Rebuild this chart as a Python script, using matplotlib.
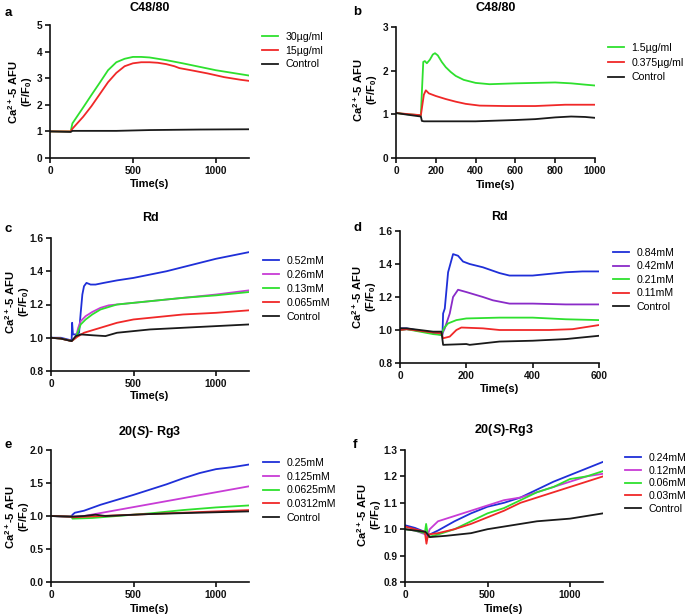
import matplotlib
matplotlib.use("Agg")
import matplotlib.pyplot as plt
from matplotlib.ticker import FormatStrFormatter

plt.rcParams['font.family'] = ['Liberation Sans', 'DejaVu Sans']
plt.rcParams['mathtext.fontset'] = 'custom'
plt.rcParams['mathtext.rm'] = 'Liberation Sans:bold'
plt.rcParams['mathtext.bf'] = 'Liberation Sans:bold'
plt.rcParams['mathtext.it'] = 'Liberation Sans:italic:bold'

W, H = 685, 616
fig = plt.figure(figsize=(W / 100, H / 100), dpi=100)

GREEN = '#2EE02E'
RED = '#F02828'
BLACK = '#1A1A1A'
BLUE = '#1F2FD8'
MAGENTA = '#C83CD6'
PURPLE = '#8A2BC8'

# ---------------- Panel a ----------------
a_labels = ['30µg/ml', '15µg/ml', 'Control']
a_t = [[0, 125, 135, 200, 250, 300, 350, 400, 450, 500, 550, 600, 700, 800, 900, 1000, 1100, 1200],
       [0, 125, 135, 200, 250, 300, 350, 400, 450, 500, 550, 600, 650, 700, 750, 780, 850, 950, 1050, 1150, 1200],
       [0, 125, 135, 400, 600, 900, 1200]]
a_y = [[1.0, 1.0, 1.3, 1.9, 2.37, 2.83, 3.3, 3.6, 3.73, 3.8, 3.8, 3.78, 3.68, 3.56, 3.43, 3.3, 3.2, 3.1],
       [1.0, 1.0, 1.1, 1.55, 1.95, 2.4, 2.85, 3.2, 3.45, 3.56, 3.6, 3.6, 3.58, 3.53, 3.45, 3.38, 3.3, 3.18, 3.04, 2.94, 2.9],
       [1.0, 0.98, 1.02, 1.02, 1.05, 1.07, 1.08]]
a_colors = [GREEN, RED, BLACK]

# ---------------- Panel b ----------------
b_labels = ['1.5µg/ml', '0.375µg/ml', 'Control']
b_t = [[0, 60, 125, 130, 137, 145, 155, 170, 185, 196, 210, 230, 250, 275, 300, 340, 400, 470, 600, 700, 800, 880, 950, 1000],
       [0, 125, 132, 140, 150, 165, 200, 250, 300, 350, 420, 550, 700, 850, 1000],
       [0, 60, 125, 130, 140, 400, 600, 700, 800, 880, 950, 1000]]
b_y = [[1.03, 1.0, 0.98, 1.5, 2.2, 2.22, 2.17, 2.25, 2.37, 2.4, 2.35, 2.2, 2.08, 1.97, 1.88, 1.79, 1.72, 1.69, 1.71, 1.72, 1.73, 1.71, 1.68, 1.66],
       [1.03, 0.98, 1.2, 1.45, 1.55, 1.48, 1.42, 1.35, 1.29, 1.24, 1.2, 1.19, 1.19, 1.22, 1.22],
       [1.03, 0.99, 0.95, 0.85, 0.84, 0.84, 0.87, 0.89, 0.93, 0.95, 0.94, 0.92]]
b_colors = [GREEN, RED, BLACK]

# ---------------- Panel c ----------------
c_labels = ['0.52mM', '0.26mM', '0.13mM', '0.065mM', 'Control']
c_t = [[0, 60, 120, 125, 128, 133, 150, 170, 180, 190, 200, 215, 240, 270, 320, 400, 500, 600, 700, 800, 900, 1000, 1100, 1200],
       [0, 60, 125, 150, 165, 180, 210, 250, 300, 350, 450, 600, 800, 1000, 1200],
       [0, 60, 125, 150, 165, 180, 210, 250, 300, 400, 500, 600, 800, 1000, 1200],
       [0, 60, 125, 150, 200, 300, 400, 500, 600, 700, 800, 1000, 1200],
       [0, 60, 125, 150, 180, 250, 330, 400, 500, 600, 800, 1000, 1200]]
c_y = [[1.0, 1.0, 0.985, 0.98, 1.09, 1.02, 1.02, 1.03, 1.15, 1.26, 1.31, 1.33, 1.32, 1.32, 1.33, 1.345, 1.36, 1.38, 1.40, 1.425, 1.45, 1.475, 1.495, 1.515],
       [1.0, 0.995, 0.98, 1.0, 1.06, 1.1, 1.13, 1.155, 1.18, 1.195, 1.205, 1.22, 1.24, 1.26, 1.285],
       [1.0, 0.995, 0.98, 1.0, 1.04, 1.08, 1.11, 1.14, 1.17, 1.2, 1.21, 1.22, 1.24, 1.255, 1.275],
       [1.0, 0.995, 0.98, 1.0, 1.03, 1.06, 1.09, 1.11, 1.12, 1.13, 1.14, 1.15, 1.165],
       [1.0, 0.995, 0.98, 1.01, 1.02, 1.015, 1.01, 1.03, 1.04, 1.05, 1.06, 1.07, 1.08]]
c_colors = [BLUE, MAGENTA, GREEN, RED, BLACK]

# ---------------- Panel d ----------------
d_labels = ['0.84mM', '0.42mM', '0.21mM', '0.11mM', 'Control']
d_t = [[0, 20, 100, 128, 130, 135, 145, 160, 175, 190, 210, 250, 300, 330, 400, 450, 500, 550, 600],
       [0, 20, 100, 128, 135, 150, 160, 175, 200, 250, 280, 330, 400, 500, 600],
       [0, 20, 100, 125, 132, 145, 170, 200, 300, 400, 500, 600],
       [0, 20, 100, 125, 130, 150, 170, 185, 250, 300, 450, 520, 600],
       [0, 20, 100, 125, 130, 200, 210, 300, 400, 500, 600]]
d_y = [[1.01, 1.01, 0.98, 0.97, 1.1, 1.13, 1.35, 1.46, 1.45, 1.415, 1.40, 1.38, 1.345, 1.33, 1.33, 1.34, 1.35, 1.355, 1.355],
       [1.0, 1.005, 0.985, 0.98, 1.01, 1.1, 1.2, 1.244, 1.23, 1.2, 1.18, 1.16, 1.16, 1.155, 1.155],
       [1.0, 1.005, 0.975, 0.97, 1.01, 1.04, 1.06, 1.07, 1.075, 1.075, 1.065, 1.06],
       [1.0, 1.005, 0.985, 0.98, 0.95, 0.96, 1.0, 1.015, 1.01, 1.0, 1.0, 1.005, 1.03],
       [1.01, 1.01, 0.99, 0.99, 0.91, 0.915, 0.91, 0.93, 0.935, 0.945, 0.965]]
d_colors = [BLUE, PURPLE, GREEN, RED, BLACK]

# ---------------- Panel e ----------------
e_labels = ['0.25mM', '0.125mM', '0.0625mM', '0.0312mM', 'Control']
e_t = [[0, 120, 135, 145, 200, 300, 400, 500, 600, 700, 800, 900, 1000, 1100, 1200],
       [0, 125, 200, 300, 400, 600, 800, 1000, 1200],
       [0, 125, 130, 250, 400, 600, 800, 1000, 1200],
       [0, 125, 130, 300, 500, 800, 1100, 1200],
       [0, 125, 200, 270, 330, 600, 1200]]
e_y = [[1.0, 0.99, 1.03, 1.05, 1.08, 1.17, 1.245, 1.32, 1.4, 1.48, 1.57, 1.65, 1.71, 1.74, 1.78],
       [1.0, 0.99, 1.0, 1.045, 1.09, 1.18, 1.27, 1.36, 1.45],
       [1.0, 0.99, 0.96, 0.97, 1.0, 1.04, 1.09, 1.13, 1.16],
       [1.0, 0.99, 0.98, 1.0, 1.02, 1.05, 1.08, 1.09],
       [1.0, 0.99, 1.0, 1.02, 1.0, 1.03, 1.07]]
e_colors = [BLUE, MAGENTA, GREEN, RED, BLACK]

# ---------------- Panel f ----------------
f_labels = ['0.24mM', '0.12mM', '0.06mM', '0.03mM', 'Control']
f_t = [[0, 60, 120, 130, 150, 200, 300, 400, 500, 600, 700, 800, 900, 1000, 1100, 1200],
       [0, 60, 125, 132, 150, 200, 300, 400, 500, 600, 700, 800, 900, 1000, 1100, 1200],
       [0, 60, 120, 128, 140, 200, 300, 400, 500, 600, 700, 800, 900, 1000, 1100, 1200],
       [0, 60, 120, 130, 140, 200, 300, 400, 500, 600, 700, 800, 900, 1000, 1100, 1200],
       [0, 60, 125, 150, 250, 400, 500, 600, 700, 800, 1000, 1200]]
f_y = [[1.015, 1.005, 0.99, 0.975, 0.98, 0.995, 1.03, 1.06, 1.085, 1.10, 1.12, 1.15, 1.18, 1.205, 1.23, 1.255],
       [1.0, 0.995, 0.98, 0.97, 1.0, 1.03, 1.05, 1.07, 1.09, 1.11, 1.12, 1.14, 1.16, 1.18, 1.2, 1.21],
       [1.0, 0.995, 0.985, 1.02, 0.97, 0.98, 1.0, 1.03, 1.06, 1.08, 1.11, 1.14, 1.16, 1.19, 1.2, 1.22],
       [1.01, 1.0, 0.99, 0.945, 0.98, 0.985, 1.0, 1.02, 1.045, 1.07, 1.1, 1.12, 1.14, 1.16, 1.18, 1.2],
       [1.0, 0.995, 0.99, 0.97, 0.975, 0.985, 1.0, 1.01, 1.02, 1.03, 1.04, 1.06]]
f_colors = [BLUE, MAGENTA, GREEN, RED, BLACK]

titles = ['C48/80', 'C48/80', 'Rd', 'Rd', r'20($\mathit{S}$)- Rg3', r'20($\mathit{S}$)-Rg3']
letters = ['a', 'b', 'c', 'd', 'e', 'f']


def px_axes(x0, y0, x1, y1):
    return fig.add_axes([x0 / W, 1 - y1 / H, (x1 - x0) / W, (y1 - y0) / H])


def ftext(x, y, s, **kw):
    fig.text(x / W, 1 - y / H, s, **kw)


panels = [
    dict(t=a_t, y=a_y, labels=a_labels, colors=a_colors, box=(50, 25, 249, 158), xlim=(0, 1200), xt=[0, 500, 1000],
         ylim=(0, 5), yt=[0, 1, 2, 3, 4, 5], yfmt='%d', leg=(262, 32, 0.35), ylab=(20, 92), title_y=8, letter=(8, 13), xlab_y=184),
    dict(t=b_t, y=b_y, labels=b_labels, colors=b_colors, box=(396, 27, 595, 158), xlim=(0, 1000), xt=[0, 200, 400, 600, 800, 1000],
         ylim=(0, 3), yt=[0, 1, 2, 3], yfmt='%d', leg=(608, 43, 0.45), ylab=(365, 90), title_y=8, letter=(357, 12), xlab_y=185),
    dict(t=c_t, y=c_y, labels=c_labels, colors=c_colors, box=(51, 238, 249, 371), xlim=(0, 1200), xt=[0, 500, 1000],
         ylim=(0.8, 1.6), yt=[0.8, 1.0, 1.2, 1.4, 1.6], yfmt='%.1f', leg=(263, 256, 0.38), ylab=(17, 302), title_y=218, letter=(8, 229), xlab_y=396),
    dict(t=d_t, y=d_y, labels=d_labels, colors=d_colors, box=(400, 231, 599, 363), xlim=(0, 600), xt=[0, 200, 400, 600],
         ylim=(0.8, 1.6), yt=[0.8, 1.0, 1.2, 1.4, 1.6], yfmt='%.1f', leg=(613, 248, 0.33), ylab=(364, 297), title_y=217, letter=(357, 228), xlab_y=389),
    dict(t=e_t, y=e_y, labels=e_labels, colors=e_colors, box=(51, 450, 249, 582), xlim=(0, 1200), xt=[0, 500, 1000],
         ylim=(0, 2), yt=[0.0, 0.5, 1.0, 1.5, 2.0], yfmt='%.1f', leg=(263, 458, 0.35), ylab=(17, 517), title_y=432, letter=(8, 445), xlab_y=609),
    dict(t=f_t, y=f_y, labels=f_labels, colors=f_colors, box=(405, 450, 603, 582), xlim=(0, 1200), xt=[0, 500, 1000],
         ylim=(0.8, 1.3), yt=[0.8, 0.9, 1.0, 1.1, 1.2, 1.3], yfmt='%.1f', leg=(625, 453, 0.25), ylab=(369, 515), title_y=430, letter=(355, 445), xlab_y=609),
]

for i, p in enumerate(panels):
    ax = px_axes(*p['box'])
    for tt, yy, lab, col in zip(p['t'], p['y'], p['labels'], p['colors']):
        ax.plot(tt, yy, color=col, lw=1.3, label=lab, solid_joinstyle='round')
    ax.set_xlim(*p['xlim'])
    ax.set_ylim(*p['ylim'])
    ax.set_xticks(p['xt'])
    ax.set_yticks(p['yt'])
    ax.yaxis.set_major_formatter(FormatStrFormatter(p['yfmt']))
    for s in ['top', 'right']:
        ax.spines[s].set_visible(False)
    for s in ['left', 'bottom']:
        ax.spines[s].set_linewidth(1.2)
        ax.spines[s].set_color('#111111')
    ax.tick_params(direction='out', length=3.5, width=1.2, labelsize=7.3, pad=2, colors='#111111')
    for lbl in ax.get_xticklabels() + ax.get_yticklabels():
        lbl.set_fontweight('bold')
    ax.patch.set_alpha(0)
    x0, y0, x1, y1 = p['box']
    ftext((x0 + x1) / 2, p['title_y'], titles[i], ha='center', va='center', fontsize=9, fontweight='bold')
    ftext(p['letter'][0], p['letter'][1], letters[i], ha='center', va='center', fontsize=9.5, fontweight='bold')
    ftext((x0 + x1) / 2, p['xlab_y'], 'Time(s)', ha='center', va='center', fontsize=8, fontweight='bold')
    ftext(p['ylab'][0], p['ylab'][1], 'Ca$^{2+}$-5 AFU\n(F/F$_0$)', ha='center', va='center', rotation=90,
          fontsize=8.0, fontweight='bold', multialignment='center', linespacing=1.0)
    lx, ly, ls = p['leg']
    ax.legend(loc='upper left', bbox_to_anchor=(lx / W, 1 - ly / H), bbox_transform=fig.transFigure,
              frameon=False, fontsize=7.6, handlelength=1.5, handletextpad=0.7, labelspacing=ls,
              borderpad=0, borderaxespad=0)

fig.savefig('out.png', dpi=100)
